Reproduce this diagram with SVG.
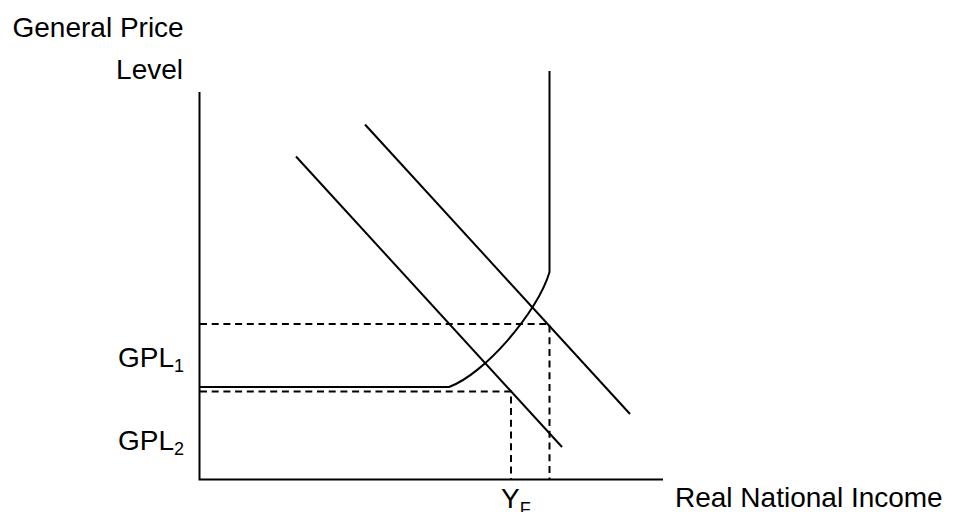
<svg xmlns="http://www.w3.org/2000/svg" width="953" height="512" viewBox="0 0 953 512">
<style>
.ln{fill:none;stroke:#000;stroke-width:2}
.ds{fill:none;stroke:#000;stroke-width:2;stroke-dasharray:7 4.7}
.t{font-family:"Liberation Sans",Arial,sans-serif;font-size:28px;fill:#000}
.s{font-size:18px}
</style>
<rect width="953" height="512" fill="#fff"/>
<g id="connectors">
<path id="axes" class="ln" d="M199.5,92 V479.5 H663"/>
<path id="dash-upper" class="ds" d="M200,324 H549.5 V479"/>
<path id="dash-lower" class="ds" d="M200,391.5 H511 V479"/>
<path id="AS" class="ln" d="M200,387 H449 C484,374.5 538,312 549.5,272 V71"/>
<path id="AD1" class="ln" d="M296,156.5 L562,447"/>
<path id="AD2" class="ln" d="M365,124.5 L630,414"/>
</g>
<g id="label-y"><text class="t" x="12.5" y="37">General Price</text><text class="t" x="183" y="79" text-anchor="end">Level</text></g>
<g id="label-gpl1"><text class="t" x="118" y="367">GPL<tspan class="s" dy="5">1</tspan></text></g>
<g id="label-gpl2"><text class="t" x="118" y="450">GPL<tspan class="s" dy="5">2</tspan></text></g>
<g id="label-yf"><text class="t" x="501" y="508">Y<tspan class="s" dy="7">F</tspan></text></g>
<g id="label-x"><text class="t" x="675" y="507">Real National Income</text></g>
</svg>
